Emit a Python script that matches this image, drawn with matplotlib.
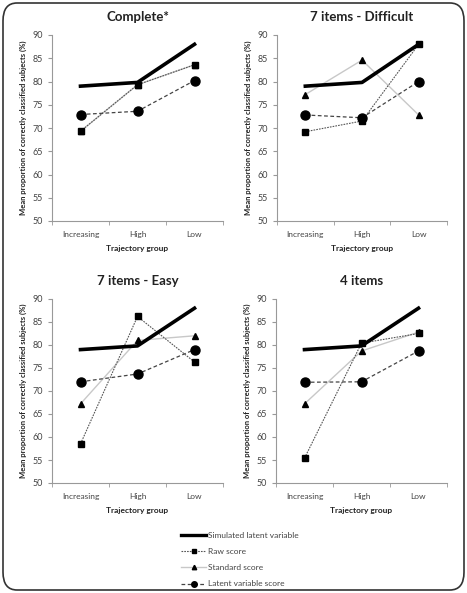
import numpy as np
import matplotlib
matplotlib.use('Agg')
import matplotlib.pyplot as plt
from matplotlib.patches import FancyBboxPatch
from matplotlib.lines import Line2D

plt.rcParams['font.family'] = ['Lato', 'DejaVu Sans']

groups = ['Increasing', 'High', 'Low']
titles = ['Complete*', '7 items - Difficult', '7 items - Easy', '4 items']
simulated = [79.0, 79.8, 88.0]
raw = [[69.3, 79.3, 83.6], [69.2, 71.5, 88.0], [58.5, 86.2, 76.3], [55.4, 80.4, 82.5]]
standard = [[69.3, 79.3, 83.6], [77.2, 84.6, 72.8], [67.2, 81.0, 82.0], [67.2, 78.7, 82.8]]
latent = [[72.9, 73.6, 80.2], [72.8, 72.2, 80.0], [72.0, 73.7, 79.0], [71.9, 72.0, 78.7]]
legend_labels = ['Simulated latent variable', 'Raw score', 'Standard score', 'Latent variable score']

W, H = 467, 593
fig = plt.figure(figsize=(W / 100, H / 100), dpi=100)

# axes boxes in pixels: left, top, right, bottom
boxes = [(52, 35, 223, 221), (277, 35, 447, 221),
         (52, 299, 223, 483), (276, 299, 447, 483)]

x = np.arange(3)
for i, (l, t, r, b) in enumerate(boxes):
    ax = fig.add_axes([l / W, 1 - b / H, (r - l) / W, (b - t) / H])
    ax.plot(x, standard[i], color='#c8c8c8', lw=1.0, marker='^', ms=4.5,
            mfc='black', mec='black', zorder=2)
    ax.plot(x, raw[i], color='#555555', lw=0.8, ls=(0, (1.5, 1)), marker='s', ms=5,
            mfc='black', mec='black', zorder=3)
    ax.plot(x, latent[i], color='#444444', lw=0.9, ls=(0, (3, 2)), marker='o', ms=6.5,
            mfc='black', mec='black', zorder=3)
    ax.plot(x, simulated, color='black', lw=2.6, zorder=4)
    ax.set_xlim(-0.5, 2.5)
    ax.set_ylim(50, 90)
    ax.set_yticks(range(50, 91, 5))
    ax.set_xticks(x)
    ax.set_xticklabels(groups)
    ax.set_xticks([-0.5, 0.5, 1.5, 2.5], minor=True)
    ax.tick_params(axis='x', which='major', length=0, pad=7, labelsize=6, colors='#444444')
    ax.tick_params(axis='x', which='minor', length=3, color='#999999', direction='out')
    ax.tick_params(axis='y', length=3, color='#999999', labelsize=6.5, colors='#444444')
    ax.tick_params(axis='y', which='major', colors='#999999', labelcolor='#444444')
    for s in ['top', 'right']:
        ax.spines[s].set_visible(False)
    for s in ['left', 'bottom']:
        ax.spines[s].set_color('#999999')
        ax.spines[s].set_linewidth(0.8)
    ax.set_title(titles[i], fontsize=9.5, fontweight='bold', pad=10, color='#222222')
    ax.set_xlabel('Trajectory group', fontsize=6, fontweight='bold', labelpad=5, color='#222222')
    ax.set_ylabel('Mean proportion of correctly classified subjects (%)', fontsize=5.5,
                  fontweight='bold', labelpad=4, color='#222222')

handles = [
    Line2D([], [], color='black', lw=2.4),
    Line2D([], [], color='#555555', lw=0.8, ls=(0, (1.5, 1)), marker='s', ms=3.2, mfc='black', mec='black'),
    Line2D([], [], color='#c8c8c8', lw=1.0, marker='^', ms=3.2, mfc='black', mec='black'),
    Line2D([], [], color='#444444', lw=0.9, ls=(0, (3, 2)), marker='o', ms=4, mfc='black', mec='black'),
]
leg = fig.legend(handles, legend_labels, loc='upper left', bbox_to_anchor=(181 / W, 1 - 532 / H),
                 frameon=False, fontsize=6, handlelength=3.0, labelspacing=1.1,
                 handletextpad=0.2, borderaxespad=0, borderpad=0)
for txt in leg.get_texts():
    txt.set_color('#444444')

border = FancyBboxPatch((3 / W, 3 / H), (W - 6) / W, (H - 6) / H,
                        boxstyle='round,pad=0,rounding_size=0.03', transform=fig.transFigure,
                        fill=False, ec='#333333', lw=1.2)
fig.patches.append(border)

fig.savefig('out.png', dpi=100)
